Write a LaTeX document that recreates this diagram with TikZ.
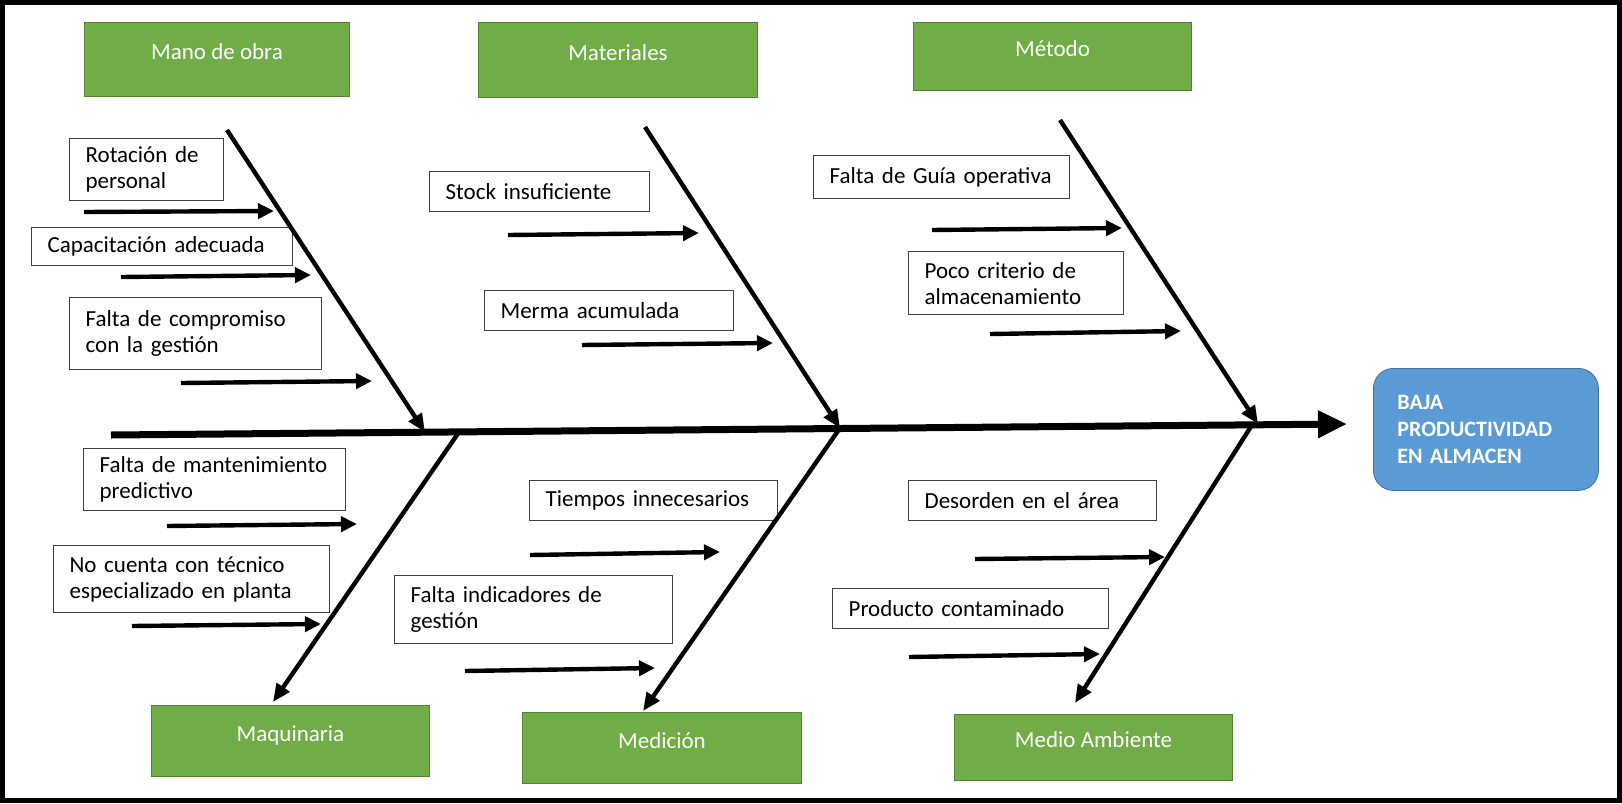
\documentclass[tikz,border=0pt]{standalone}
\usepackage{fontspec}
\setmainfont{Carlito}
\usetikzlibrary{arrows.meta}

\definecolor{verde}{HTML}{70AD47}
\definecolor{verdeborde}{HTML}{548235}
\definecolor{azul}{HTML}{5B9BD5}
\definecolor{azulborde}{HTML}{41719C}

\tikzset{
  causa/.style={draw=black!75, line width=0.6pt, fill=white, anchor=north west,
    align=left, inner xsep=8pt, inner ysep=0pt, font=\fontsize{11.5}{13}\selectfont},
  categoria/.style={draw=verdeborde, line width=0.5pt, fill=verde, text=white,
    anchor=north west, text height=6pt, text depth=6pt, font=\fontsize{11.5}{13}\selectfont},
  hueso/.style={line width=2.2pt, -{Triangle[length=9pt,width=7.5pt]}},
  flecha/.style={line width=2.2pt, -{Triangle[length=8pt,width=7.5pt]}}
}

\begin{document}
\begin{tikzpicture}[x=0.5pt,y=-0.5pt]
\useasboundingbox (0,0) rectangle (1622,803);
\draw[line width=2.5pt] (2.5,2.5) rectangle (1619.5,800.5);

% categorias
\node[categoria, minimum width=132.5pt, minimum height=37pt] (mano) at (84,22) {Mano de obra};
\node[categoria, minimum width=139.5pt, minimum height=37.5pt] (materiales) at (478,22) {Materiales};
\node[categoria, minimum width=139pt, minimum height=34pt] (metodo) at (913,22) {Método};
\node[categoria, minimum width=139pt, minimum height=35.5pt] (maquinaria) at (151,705) {Maquinaria};
\node[categoria, minimum width=139.5pt, minimum height=35.5pt] (medicion) at (522,712) {Medición};
\node[categoria, minimum width=139pt, minimum height=33pt] (medio) at (954,714) {Medio Ambiente};

% efecto
\node[draw=azulborde, fill=azul, rounded corners=10pt, text=white, anchor=north west,
  minimum width=112.5pt, minimum height=61pt, text width=88.5pt, align=left,
  inner xsep=12pt, font=\fontsize{11}{13.5}\selectfont\bfseries] (efecto) at (1373,368)
  {BAJA\\PRODUCTIVIDAD\\EN ALMACEN};

% causas
\node[causa, text width=61pt, minimum height=31pt] (rotacion) at (69,138) {Rotación de\\personal};
\node[causa, text width=114.5pt, minimum height=19pt] (capacitacion) at (31,227) {Capacitación adecuada};
\node[causa, text width=110pt, minimum height=36pt] (compromiso) at (69,297) {Falta de compromiso\\con la gestión};
\node[causa, text width=115pt, minimum height=31pt] (mantenimiento) at (83,448) {Falta de mantenimiento\\predictivo};
\node[causa, text width=122pt, minimum height=33.5pt] (tecnico) at (53,545) {No cuenta con técnico\\especializado en planta};
\node[causa, text width=94pt, minimum height=20pt] (stock) at (429,171) {Stock insuficiente};
\node[causa, text width=108.5pt, minimum height=20pt] (merma) at (484,290) {Merma acumulada};
\node[causa, text width=108pt, minimum height=20pt] (tiempos) at (529,480) {Tiempos innecesarios};
\node[causa, text width=123pt, minimum height=34pt] (indicadores) at (394,575) {Falta indicadores de\\gestión};
\node[causa, text width=112pt, minimum height=21.5pt] (guia) at (813,155) {Falta de Guía operativa};
\node[causa, text width=91.5pt, minimum height=31.5pt] (criterio) at (908,251) {Poco criterio de\\almacenamiento};
\node[causa, text width=108pt, minimum height=20pt] (desorden) at (908,480) {Desorden en el área};
\node[causa, text width=122pt, minimum height=20pt] (producto) at (832,588) {Producto contaminado};

% espina central
\coordinate (cola) at (111,435);
\coordinate (cabeza) at (1347,424);
\draw[line width=3.5pt, -{Triangle[length=14.5pt,width=13pt]}] (cola) -- (cabeza);

% huesos
\coordinate (h1) at (227,130); \coordinate (e1) at (425,432);
\coordinate (h2) at (645,127); \coordinate (e2) at (840,428);
\coordinate (h3) at (1060,120); \coordinate (e3) at (1258,424);
\coordinate (e4) at (459,432); \coordinate (h4) at (273,702);
\coordinate (e5) at (840,428); \coordinate (h5) at (643,711);
\coordinate (e6) at (1252,425); \coordinate (h6) at (1075,703);
\draw[hueso] (h1) -- (e1);
\draw[hueso] (h2) -- (e2);
\draw[hueso] (h3) -- (e3);
\draw[hueso] (e4) -- (h4);
\draw[hueso] (e5) -- (h5);
\draw[hueso] (e6) -- (h6);

% flechas de causas
\coordinate (a1) at (84,212); \coordinate (b1) at (274,211);
\coordinate (a2) at (121,277); \coordinate (b2) at (311,275);
\coordinate (a3) at (181,383); \coordinate (b3) at (372,381);
\coordinate (a4) at (167,526); \coordinate (b4) at (357,524);
\coordinate (a5) at (132,626); \coordinate (b5) at (321,624);
\coordinate (a6) at (508,235); \coordinate (b6) at (699,233);
\coordinate (a7) at (582,345); \coordinate (b7) at (773,343);
\coordinate (a8) at (530,555); \coordinate (b8) at (720,552);
\coordinate (a9) at (465,671); \coordinate (b9) at (655,668);
\coordinate (a10) at (932,230); \coordinate (b10) at (1122,228);
\coordinate (a11) at (990,334); \coordinate (b11) at (1181,331);
\coordinate (a12) at (975,559); \coordinate (b12) at (1165,557);
\coordinate (a13) at (909,657); \coordinate (b13) at (1100,654);
\draw[flecha] (a1) -- (b1);
\draw[flecha] (a2) -- (b2);
\draw[flecha] (a3) -- (b3);
\draw[flecha] (a4) -- (b4);
\draw[flecha] (a5) -- (b5);
\draw[flecha] (a6) -- (b6);
\draw[flecha] (a7) -- (b7);
\draw[flecha] (a8) -- (b8);
\draw[flecha] (a9) -- (b9);
\draw[flecha] (a10) -- (b10);
\draw[flecha] (a11) -- (b11);
\draw[flecha] (a12) -- (b12);
\draw[flecha] (a13) -- (b13);
\end{tikzpicture}
\end{document}
